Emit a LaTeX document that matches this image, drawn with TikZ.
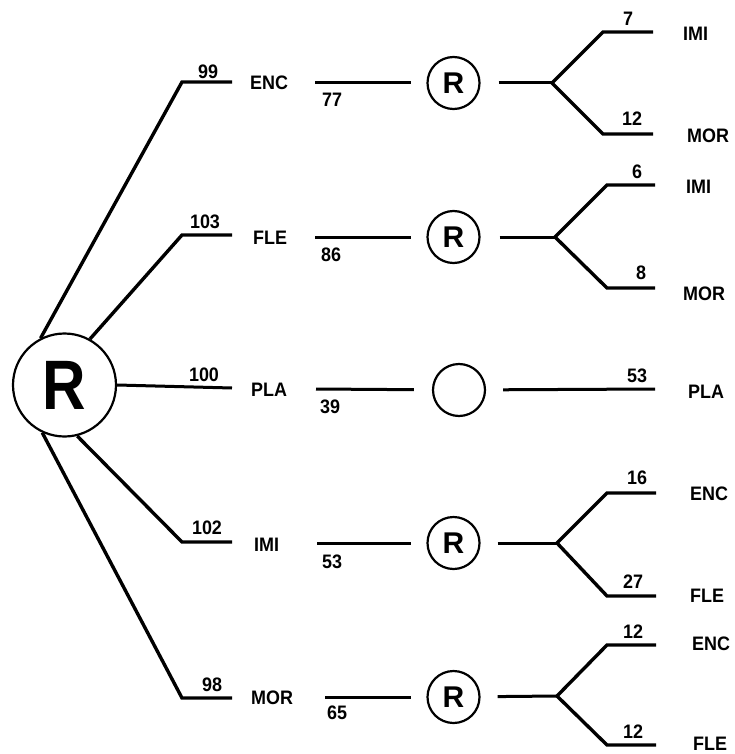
\documentclass[tikz,border=0pt]{standalone}
\usepackage{fontspec}
\setmainfont{Liberation Sans}
\begin{document}
\begin{tikzpicture}[x=1pt,y=-1pt,
  branch/.style={line width=3.4pt,line join=miter},
  seg/.style={line width=3pt},
  lab/.style={font=\fontsize{19.5}{21}\selectfont\bfseries,inner sep=0pt,xscale=0.92,transform shape},
  bigc/.style={circle,draw,line width=2.2pt,minimum size=103pt,inner sep=0pt,font=\fontsize{70}{72}\selectfont\bfseries},
  smc/.style={circle,draw,line width=2.2pt,minimum size=52pt,inner sep=0pt,font=\fontsize{30}{32}\selectfont\bfseries}]
\useasboundingbox (0,0) rectangle (734,754);

% root
\node[bigc] (root) at (64.5,385) {\scalebox{0.86}[1]{R}};

% first-level branch ends
\coordinate (b1s) at (182,82);  \coordinate (b1e) at (232,82);
\coordinate (b2s) at (182,235); \coordinate (b2e) at (232,235);
\coordinate (b3e) at (232,388);
\coordinate (b4s) at (182,542); \coordinate (b4e) at (232,542);
\coordinate (b5s) at (182,698); \coordinate (b5e) at (232,698);

\draw[branch] (root.117.5) -- (b1s) -- (b1e);
\draw[branch] (root.61) -- (b2s) -- (b2e);
\draw[seg] (root.east) -- (b3e);
\draw[branch] (root.-76) -- (b4s) -- (b4e);
\draw[branch] (root.-115) -- (b5s) -- (b5e);

\node[lab] (n99) at (208,72) {99};
\node[lab] (n103) at (205,222) {103};
\node[lab] (n100) at (204,375) {100};
\node[lab] (n102) at (207,528) {102};
\node[lab] (n98) at (212,685) {98};

\node[lab,anchor=west] (l1) at (250,83) {ENC};
\node[lab,anchor=west] (l2) at (253,238) {FLE};
\node[lab,anchor=west] (l3) at (251,390) {PLA};
\node[lab,anchor=west] (l4) at (254,545) {IMI};
\node[lab,anchor=west] (l5) at (251,698) {MOR};

% second-level circles
\node[smc] (c1) at (453.5,83) {R};
\node[smc] (c2) at (453.5,237) {R};
\node[smc] (c3) at (459,390) {};
\node[smc] (c4) at (453.5,543) {R};
\node[smc] (c5) at (453.5,697) {R};

\coordinate (m1) at (315,83);
\coordinate (m2) at (315,237);
\coordinate (m3) at (316,389);
\coordinate (m4) at (317,543);
\coordinate (m5) at (325,697);

\draw[seg,shorten >=15pt] (m1) -- (c1);
\draw[seg,shorten >=15pt] (m2) -- (c2);
\draw[seg,shorten >=18pt] (m3) -- (c3);
\draw[seg,shorten >=15pt] (m4) -- (c4);
\draw[seg,shorten >=15pt] (m5) -- (c5);

\node[lab] (n77) at (332,100) {77};
\node[lab] (n86) at (331,255) {86};
\node[lab] (n39) at (330,407) {39};
\node[lab] (n53a) at (332,562) {53};
\node[lab] (n65) at (337,713) {65};

% forks
\coordinate (f1) at (552,83);
\coordinate (f2) at (555,237);
\coordinate (f4) at (557,543);
\coordinate (f5) at (557,696);

\draw[seg,shorten <=18pt] (c1) -- (f1);
\draw[seg,shorten <=19pt] (c2) -- (f2);
\draw[seg,shorten <=17pt] (c4) -- (f4);
\draw[seg,shorten <=17pt] (c5) -- (f5);

\coordinate (u1) at (603,32);  \coordinate (ue1) at (653,32);
\coordinate (d1) at (603,134); \coordinate (de1) at (653,134);
\coordinate (u2) at (607,185); \coordinate (ue2) at (655,185);
\coordinate (d2) at (607,288); \coordinate (de2) at (655,288);
\coordinate (e3) at (655,389);
\coordinate (u4) at (607,493); \coordinate (ue4) at (656,493);
\coordinate (d4) at (607,596); \coordinate (de4) at (656,596);
\coordinate (u5) at (607,645); \coordinate (ue5) at (656,645);
\coordinate (d5) at (607,745); \coordinate (de5) at (656,745);

\draw[branch] (ue1) -- (u1) -- (f1) -- (d1) -- (de1);
\draw[branch] (ue2) -- (u2) -- (f2) -- (d2) -- (de2);
\draw[seg,shorten <=17pt] (c3) -- (e3);
\draw[branch] (ue4) -- (u4) -- (f4) -- (d4) -- (de4);
\draw[branch] (ue5) -- (u5) -- (f5) -- (d5) -- (de5);

% right labels
\node[lab] (r7) at (628,19) {7};
\node[lab] (r12a) at (632,119) {12};
\node[lab] (r6) at (637,172) {6};
\node[lab] (r8) at (641,273) {8};
\node[lab] (r53) at (637,376) {53};
\node[lab] (r16) at (637,478) {16};
\node[lab] (r27) at (633,582) {27};
\node[lab] (r12b) at (633,632) {12};
\node[lab] (r12c) at (633,732) {12};

\node[lab,anchor=west] (t1) at (683,34) {IMI};
\node[lab,anchor=west] (t2) at (687,136) {MOR};
\node[lab,anchor=west] (t3) at (686,187) {IMI};
\node[lab,anchor=west] (t4) at (683,294) {MOR};
\node[lab,anchor=west] (t5) at (688,392) {PLA};
\node[lab,anchor=west] (t6) at (690,494) {ENC};
\node[lab,anchor=west] (t7) at (690,596) {FLE};
\node[lab,anchor=west] (t8) at (692,644) {ENC};
\node[lab,anchor=west] (t9) at (693,744) {FLE};
\end{tikzpicture}
\end{document}
